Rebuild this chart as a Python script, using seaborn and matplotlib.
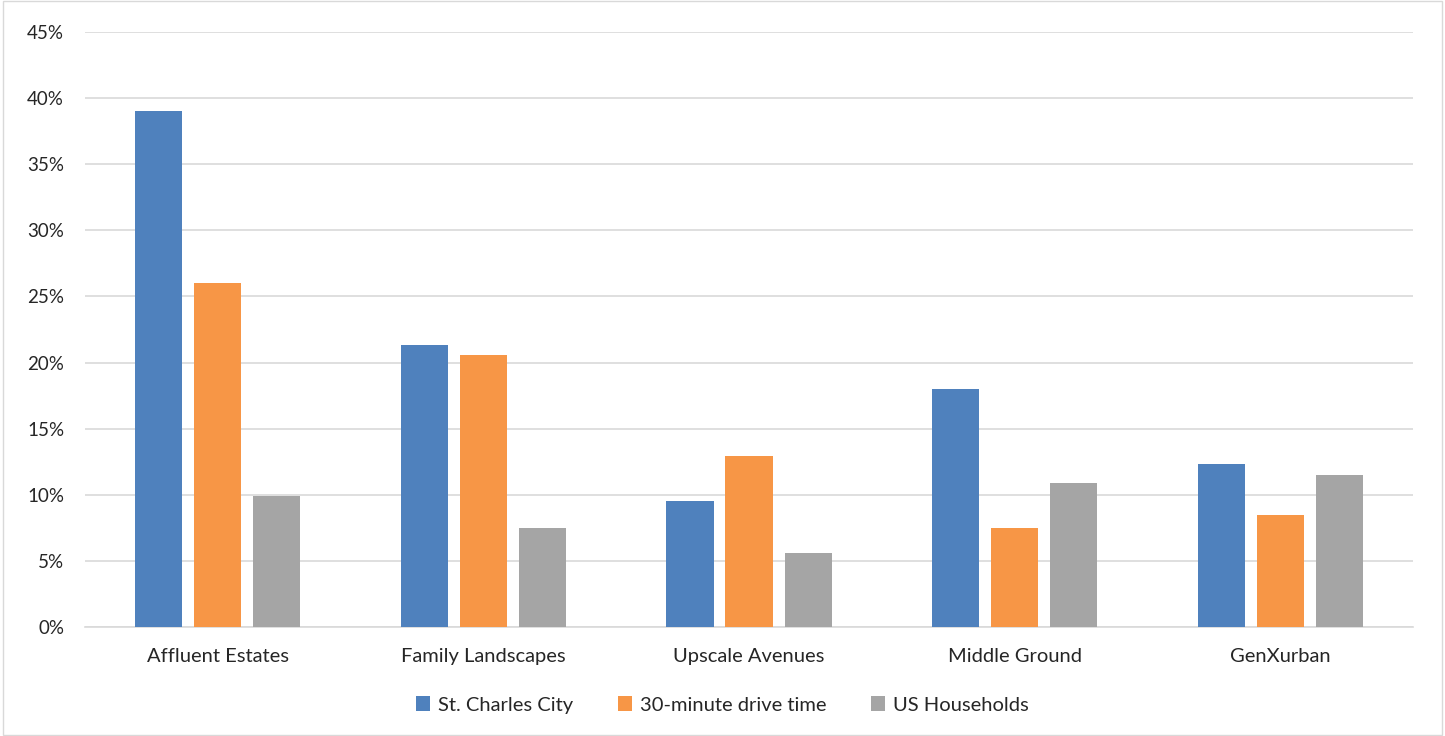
import matplotlib
matplotlib.use("Agg")
import matplotlib.pyplot as plt
from matplotlib.ticker import PercentFormatter, MultipleLocator
from matplotlib.patches import Rectangle
import seaborn as sns
import pandas as pd

# Tapestry segment shares by geography
segments = ["Affluent Estates", "Family Landscapes", "Upscale Avenues", "Middle Ground", "GenXurban"]
series_names = ["St. Charles City", "30-minute drive time", "US Households"]
st_charles = [0.390, 0.213, 0.095, 0.180, 0.123]
drive_30 = [0.260, 0.206, 0.129, 0.075, 0.085]
us_households = [0.099, 0.075, 0.056, 0.109, 0.115]
colors = ["#4F81BD", "#F79646", "#A5A5A5"]

rows = []
for name, vals in zip(series_names, [st_charles, drive_30, us_households]):
    for seg, v in zip(segments, vals):
        rows.append({"Segment": seg, "Area": name, "Share": v})
df = pd.DataFrame(rows)

sns.set_theme(style="white")
plt.rcParams["font.family"] = ["Lato", "DejaVu Sans"]

fig = plt.figure(figsize=(14.45, 7.36), dpi=100)
ax = fig.add_axes([0.0588, 0.148, 0.9192, 0.8085])

sns.barplot(data=df, x="Segment", y="Share", hue="Area", order=segments,
            hue_order=series_names, palette=colors, width=0.667, gap=0.2,
            saturation=1, edgecolor="none", ax=ax, legend=True, zorder=3)

ax.set_ylim(0, 0.45)
ax.set_xlim(-0.5, 4.5)
ax.yaxis.set_major_locator(MultipleLocator(0.05))
ax.yaxis.set_major_formatter(PercentFormatter(1.0, decimals=0))
ax.grid(axis="y", color="#D9D9D9", linewidth=1.2, zorder=0)
ax.set_axisbelow(True)
for side in ["top", "right", "left"]:
    ax.spines[side].set_visible(False)
ax.spines["bottom"].set_color("#D9D9D9")
ax.spines["bottom"].set_linewidth(1.2)
ax.set_xlabel("")
ax.set_ylabel("")
ax.tick_params(axis="y", length=0, pad=15, labelsize=13.5, labelcolor="#262626")
ax.tick_params(axis="x", length=0, pad=15, labelsize=14.5, labelcolor="#262626")

handles, labels = ax.get_legend_handles_labels()
ax.get_legend().remove()
fig.legend(handles, labels, loc="center", bbox_to_anchor=(0.5, 1 - 705 / 736),
           ncol=3, frameon=False, fontsize=14.5, handlelength=0.7, handleheight=0.7,
           handletextpad=0.4, columnspacing=2.2, labelcolor="#262626")

# chart area border
fig.patches.append(Rectangle((0.002, 0.002), 0.996, 0.996, transform=fig.transFigure,
                             fill=False, edgecolor="#D9D9D9", linewidth=1))

fig.savefig("out.png", dpi=100)
